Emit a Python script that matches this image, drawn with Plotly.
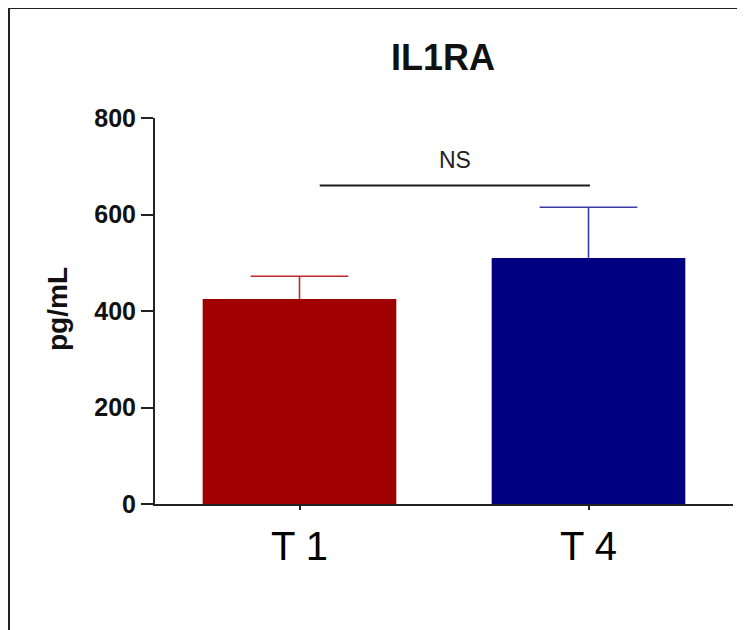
import plotly.graph_objects as go

# ---- data ----
categories = ["T 1", "T 4"]
means = [425, 510]
sem_upper = [47, 105]
bar_colors = ["#a00000", "#000080"]
err_colors = ["#c0282c", "#3a3aa8"]
y_ticks = [0, 200, 400, 600, 800]
chart_title = "IL1RA"
y_title = "pg/mL"
sig_label = "NS"
sig_span = [0.07, 1.005]   # bracket ends in category units
sig_level = 660            # bracket height (pg/mL)
sig_text_level = 714

# ---- layout geometry (pixels) ----
OFF = 8                    # page body margin in the browser
W, H = 745 - OFF, 630 - OFF
L, R, T, B = 155 - OFF, 12, 118 - OFF, 126
PW, PH = W - L - R, H - T - B
BAR_W = 0.67
CAP_HALF = 0.169

def px(xp):
    return (xp - OFF - L) / PW

def py(yp):
    return (H - B - (yp - OFF)) / PH

xpos = list(range(len(categories)))

fig = go.Figure()
for i, cat in enumerate(categories):
    fig.add_trace(go.Bar(
        x=[xpos[i]], y=[means[i]], name=cat,
        width=BAR_W,
        marker=dict(color=bar_colors[i], line=dict(width=0)),
        showlegend=False,
    ))
    top = means[i] + sem_upper[i]
    fig.add_trace(go.Scatter(
        x=[xpos[i], xpos[i], None, xpos[i] - CAP_HALF, xpos[i] + CAP_HALF],
        y=[means[i], top, None, top, top],
        mode="lines", line=dict(color=err_colors[i], width=1.6),
        showlegend=False, hoverinfo="skip",
    ))

# significance bracket
fig.add_trace(go.Scatter(
    x=sig_span, y=[sig_level, sig_level], mode="lines",
    line=dict(color="#1a1a1a", width=2), showlegend=False, hoverinfo="skip",
))

fig.add_annotation(
    x=sum(sig_span) / 2, y=sig_text_level, xref="x", yref="y",
    text=sig_label, showarrow=False,
    font=dict(family="Liberation Sans", size=23, color="#222222"),
)

# title
fig.add_annotation(
    x=px(443), y=py(57), xref="paper", yref="paper", text=chart_title,
    showarrow=False, xanchor="center", yanchor="middle",
    font=dict(family="Liberation Sans", size=36, color="#111111", weight="bold"),
)

# y axis title
fig.add_annotation(
    x=px(57), y=py(309), xref="paper", yref="paper", text=y_title,
    showarrow=False, xanchor="center", yanchor="middle", textangle=-90,
    font=dict(family="Liberation Sans", size=28, color="#111111", weight="bold"),
)

# outer frame (left and top edges)
fig.add_shape(type="line", xref="paper", yref="paper",
              x0=px(9), x1=px(9), y0=py(8), y1=py(640),
              line=dict(color="#222222", width=2))
fig.add_shape(type="line", xref="paper", yref="paper",
              x0=px(9), x1=px(760), y0=py(8), y1=py(8),
              line=dict(color="#222222", width=2))

fig.update_layout(
    width=W, height=H,
    margin=dict(l=L, r=R, t=T, b=B, pad=0),
    plot_bgcolor="white", paper_bgcolor="white",
    barmode="overlay",
    xaxis=dict(
        range=[-0.5, 1.5], tickvals=xpos, ticktext=categories,
        showline=True, linecolor="#222222", linewidth=2,
        ticks="outside", ticklen=4, tickwidth=1.5, tickcolor="#222222",
        tickfont=dict(family="Liberation Sans", size=40, color="#000000"),
        showgrid=False, zeroline=False, ticklabelstandoff=2,
    ),
    yaxis=dict(
        range=[0, 800], tickvals=y_ticks,
        showline=True, linecolor="#222222", linewidth=2,
        ticks="outside", ticklen=12, tickwidth=2, tickcolor="#222222",
        tickfont=dict(family="Liberation Sans", size=25, color="#111111", weight="bold"),
        showgrid=False, zeroline=False,
    ),
)

fig.write_html("out.html")
